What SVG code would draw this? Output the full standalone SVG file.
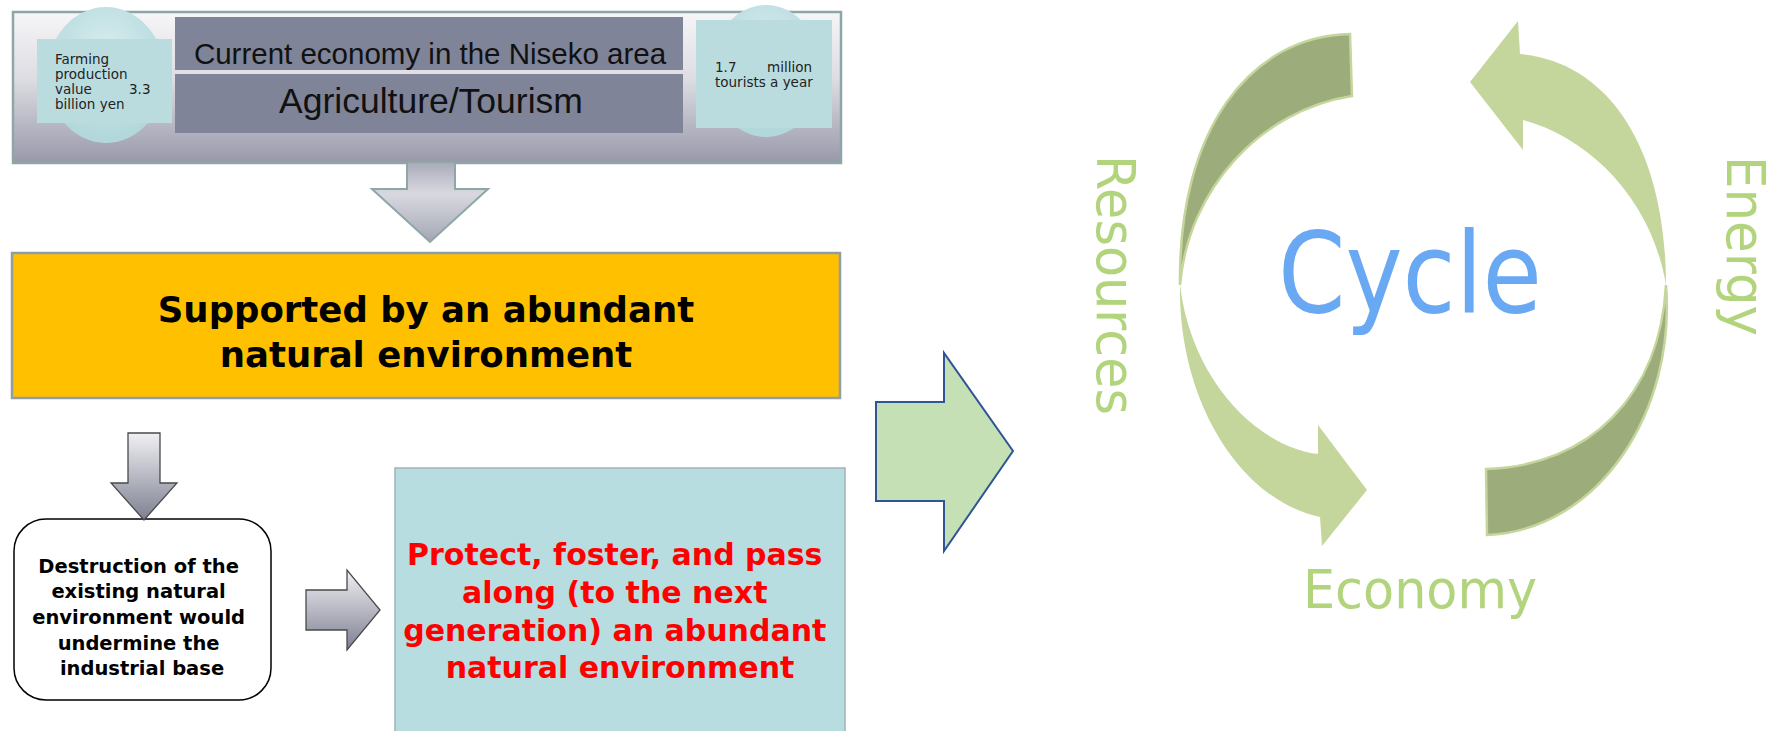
<svg xmlns="http://www.w3.org/2000/svg" width="1783" height="731" viewBox="0 0 1783 731">
<defs>
<linearGradient id="panelGrad" x1="0" y1="0" x2="0" y2="1">
<stop offset="0" stop-color="#F6F6F8"/>
<stop offset="0.45" stop-color="#DCDCE2"/>
<stop offset="1" stop-color="#9898AA"/>
</linearGradient>
<radialGradient id="circGrad" cx="0.5" cy="0.35" r="0.6">
<stop offset="0" stop-color="#D8EDEF"/>
<stop offset="1" stop-color="#B3D8DB"/>
</radialGradient>
<linearGradient id="grayArrow" x1="0" y1="0" x2="0" y2="1">
<stop offset="0" stop-color="#F0F0F3"/>
<stop offset="1" stop-color="#7E8092"/>
</linearGradient>
<linearGradient id="bigArrow" x1="0" y1="0" x2="0" y2="1">
<stop offset="0" stop-color="#A9AAB8"/>
<stop offset="0.4" stop-color="#D8D9E0"/>
<stop offset="1" stop-color="#A4A6B4"/>
</linearGradient>
<style>
.reg{font-family:"DejaVu Sans",Verdana,sans-serif;}
.head{font-family:"Liberation Sans",Arial,sans-serif;fill:#111;}
.bold{font-family:"DejaVu Sans",Verdana,sans-serif;font-weight:bold;}
.small{font-family:"DejaVu Sans",Verdana,sans-serif;font-size:13.5px;fill:#222;}
.title{fill:#7F8498;}
.minibox{fill:#BADCDF;}
.garrow{fill:url(#grayArrow);stroke:#4A4A4A;stroke-width:1.3;}
.green{font-family:"DejaVu Sans",Verdana,sans-serif;fill:#B2D47C;}
.light{fill:#C4D69C;}
.dark{fill:#9CAC7B;stroke:#C4D69C;stroke-width:2.5;}
</style>
</defs>
<rect width="1783" height="731" fill="#FFFFFF"/>

<g id="top-panel">
<rect x="13" y="12" width="828" height="151" fill="url(#panelGrad)" stroke="#8EA6A6" stroke-width="2.5"/>
<ellipse cx="106" cy="75" rx="59" ry="68" fill="url(#circGrad)"/>
<ellipse cx="766" cy="71" rx="55" ry="66" fill="url(#circGrad)"/>
<rect class="title" x="175" y="17" width="508" height="53"/>
<rect class="title" x="175" y="74" width="508" height="59"/>
<text class="head" x="430" y="64" font-size="29.5" text-anchor="middle">Current economy in the Niseko area</text>
<text class="head" x="431" y="113" font-size="35.5" text-anchor="middle">Agriculture/Tourism</text>
</g>

<g id="farming-box">
<rect class="minibox" x="37" y="39" width="135" height="84"/>
<text class="small">
<tspan x="55" y="64">Farming</tspan>
<tspan x="55" y="79">production</tspan>
<tspan x="55" y="94">value</tspan><tspan x="129" y="94">3.3</tspan>
<tspan x="55" y="109">billion yen</tspan>
</text>
</g>

<g id="tourists-box">
<rect class="minibox" x="696" y="20" width="136" height="108"/>
<text class="small">
<tspan x="715" y="72">1.7</tspan><tspan x="767" y="72">million</tspan>
<tspan x="715" y="87">tourists a year</tspan>
</text>
</g>

<g id="supported-box">
<rect x="12" y="253" width="828" height="145" fill="#FFC000" stroke="#8E9EA2" stroke-width="2.5"/>
<text class="bold" x="426" y="322" font-size="35.5" fill="#000" text-anchor="middle">Supported by an abundant</text>
<text class="bold" x="426" y="367" font-size="35.5" fill="#000" text-anchor="middle">natural environment</text>
</g>

<g id="destruction-box">
<rect x="14" y="519" width="257" height="181" rx="32" ry="32" fill="#FFFFFF" stroke="#000" stroke-width="1.5"/>
<text class="bold" font-size="19.5" fill="#000" text-anchor="middle">
<tspan x="142" y="573">Destruction of the</tspan>
<tspan x="142" y="598">existing natural</tspan>
<tspan x="142" y="624">environment would</tspan>
<tspan x="142" y="650">undermine the</tspan>
<tspan x="142" y="675">industrial base</tspan>
</text>
</g>

<g id="protect-box">
<rect x="395" y="468" width="450" height="275" fill="#B8DDE1" stroke="#A2B2B6" stroke-width="1.5"/>
<text class="bold" font-size="30" fill="#FF0000" text-anchor="middle">
<tspan x="620" y="565">Protect, foster, and pass</tspan>
<tspan x="620" y="603">along (to the next</tspan>
<tspan x="620" y="641">generation) an abundant</tspan>
<tspan x="620" y="678">natural environment</tspan>
</text>
</g>

<g id="connectors">
<polygon points="407,162 455,162 455,189 488,189 430,242 372,189 407,189" fill="url(#bigArrow)" stroke="#8EA6A6" stroke-width="2"/>
<polygon class="garrow" points="128,433 160,433 160,483 177,483 144,520 111,483 128,483"/>
<polygon class="garrow" points="306,590 347,590 347,570 380,610 347,650 347,630 306,630"/>
<polygon points="876,402 944,402 944,353 1013,451 944,551 944,501 876,501" fill="#C5E0B4" stroke="#2F5597" stroke-width="2"/>
</g>

<g id="cycle">
<path class="dark" d="M1350,34 C1250,36 1178,130 1180,285 C1188,190 1260,110 1352,96 Z"/>
<path class="light" d="M1180,285 C1178,400 1240,500 1320,517 L1322,546 L1367,490 L1318,425 L1318,454 C1262,448 1192,385 1180,285 Z"/>
<path class="light" d="M1520,54 C1610,62 1666,150 1666,285 C1652,200 1590,138 1523,120 L1523,150 L1470,82 L1518,21 Z"/>
<path class="dark" d="M1666,285 C1676,410 1600,530 1487,535 L1486,469 C1590,466 1660,395 1666,285 Z"/>
<text class="reg" x="1278" y="312" font-size="112" fill="#69A8F2" textLength="264" lengthAdjust="spacingAndGlyphs">Cycle</text>
</g>

<g id="label-resources">
<text class="green" transform="translate(1097,155) rotate(90)" x="0" y="0" font-size="54" textLength="260" lengthAdjust="spacingAndGlyphs">Resources</text>
</g>
<g id="label-energy">
<text class="green" transform="translate(1727,156) rotate(90)" x="0" y="0" font-size="53" textLength="180" lengthAdjust="spacingAndGlyphs">Energy</text>
</g>
<g id="label-economy">
<text class="green" x="1303" y="608" font-size="53" textLength="234" lengthAdjust="spacingAndGlyphs">Economy</text>
</g>
</svg>
